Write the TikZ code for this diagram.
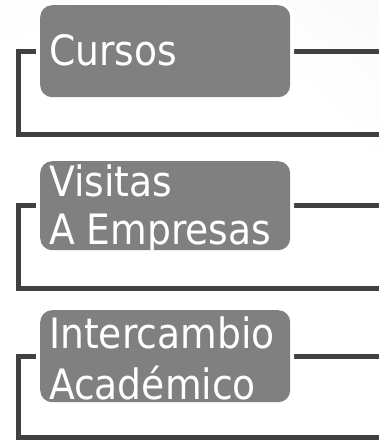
\documentclass[tikz,border=0pt]{standalone}
\usepackage{fontspec}
\setmainfont{DejaVu Sans Condensed}
\definecolor{boxgray}{HTML}{808080}
\definecolor{linegray}{HTML}{404040}
\pgfdeclareradialshading{bgshade}{\pgfpoint{0bp}{0bp}}{color(0bp)=(white); color(15bp)=(white); color(50bp)=(black!12)}
\pgfdeclarelayer{under}
\pgfsetlayers{under,main}
\begin{document}
\begin{tikzpicture}[x=1bp,y=-1bp,
  box/.style={fill=boxgray, rounded corners=12bp, inner sep=0pt, anchor=north west,
    minimum width=250bp, preaction={draw=white, line width=8bp}},
  conn/.style={draw=linegray, line width=5bp, line join=miter},
  lbl/.style={anchor=base west, inner sep=0pt, text=white, font=\fontsize{42}{49}\selectfont}]
\useasboundingbox (0,0) rectangle (379,440);
% boxes
\node[box, minimum height=92bp] (b1) at (40,5) {};
\node[box, minimum height=89bp] (b2) at (40,161) {};
\node[box, minimum height=92bp] (b3) at (40,310) {};
% labels
\node[lbl] (t1) at (49,66) {Cursos};
\node[lbl] (t2a) at (49,197) {Visitas};
\node[lbl] (t2b) at (49,244) {A Empresas};
\node[lbl] (t3a) at (49,348) {Intercambio};
\node[lbl] (t3b) at (49,399) {Académico};
% free ends
\coordinate (k1) at (18,135);
\coordinate (e1) at (379,135);
\coordinate (k2) at (18,288);
\coordinate (e2) at (379,288);
\coordinate (k3) at (18,437.5);
\coordinate (e3) at (379,437.5);
\begin{pgfonlayer}{under}
  \begin{scope}
    \clip (0,0) rectangle (379,440);
    \shade[shading=bgshade] (120,330) circle (500);
  \end{scope}
  \draw[conn] (b1.west) -| (k1) -- (e1);
  \draw[conn] (b1.east) -- (b1.east -| e1);
  \draw[conn] (b2.west) -| (k2) -- (e2);
  \draw[conn] (b2.east) -- (b2.east -| e2);
  \draw[conn] (b3.west) -| (k3) -- (e3);
  \draw[conn] (b3.east) -- (b3.east -| e3);
\end{pgfonlayer}
\end{tikzpicture}
\end{document}
